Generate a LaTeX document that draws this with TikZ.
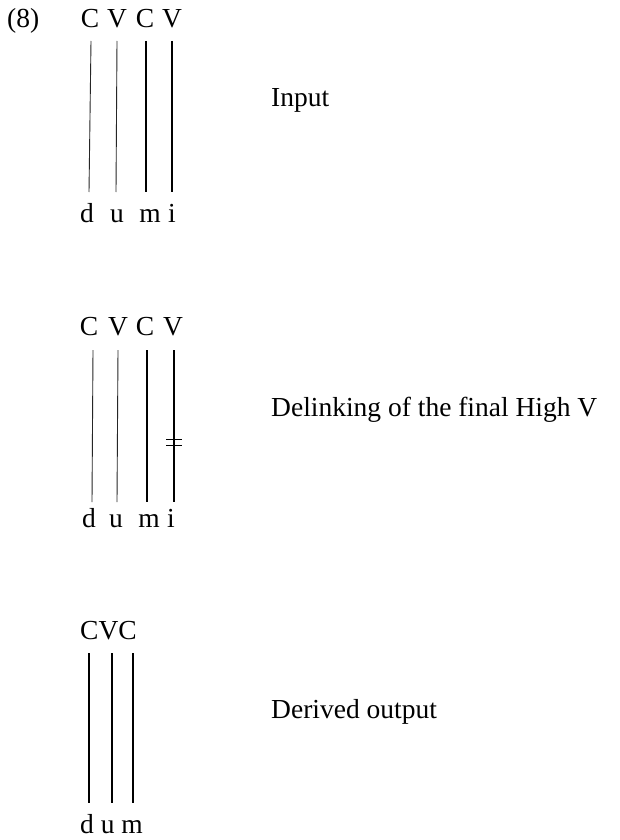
\documentclass[tikz,border=0pt]{standalone}
\usepackage{fontspec}
\setmainfont{Liberation Serif}
\begin{document}
\begin{tikzpicture}[x=1pt,y=-1pt,
  seg/.style={inner sep=0pt, anchor=base, font=\fontsize{27.5}{33}\selectfont},
  txt/.style={inner sep=0pt, anchor=base west, font=\fontsize{27.5}{33}\selectfont},
  linkthin/.style={line width=0.9pt, black!85},
  linkthick/.style={line width=1.6pt},
  cut/.style={line width=0.8pt}]
\useasboundingbox (0,0) rectangle (619,840);
\fill[white] (0,0) rectangle (619,840);
\node[txt] (num) at (7,28) {(8)};
% panel 1
\node[seg] (a1) at (90,28) {C};
\node[seg] (a2) at (117,28) {V};
\node[seg] (a3) at (145,28) {C};
\node[seg] (a4) at (172,28) {V};
\node[seg] (b1) at (87,222) {d};
\node[seg] (b2) at (117,222) {u};
\node[seg] (b3) at (150,222) {m};
\node[seg] (b4) at (172,222) {i};
\coordinate (p1t1) at (91,41);  \coordinate (p1b1) at (89,192);
\coordinate (p1t2) at (117,41); \coordinate (p1b2) at (116,192);
\coordinate (p1t3) at (146,41); \coordinate (p1b3) at (146,192);
\coordinate (p1t4) at (172,41); \coordinate (p1b4) at (172,192);
\draw[linkthin] (p1t1) -- (p1b1);
\draw[linkthin] (p1t2) -- (p1b2);
\draw[linkthick] (p1t3) -- (p1b3);
\draw[linkthick] (p1t4) -- (p1b4);
\node[txt] (in) at (271,107) {Input};
% panel 2
\node[seg] (c1) at (89,335) {C};
\node[seg] (c2) at (118,335) {V};
\node[seg] (c3) at (145,335) {C};
\node[seg] (c4) at (173,335) {V};
\node[seg] (d1) at (89,527) {d};
\node[seg] (d2) at (116,527) {u};
\node[seg] (d3) at (149,527) {m};
\node[seg] (d4) at (171,527) {i};
\coordinate (p2t1) at (93,350);  \coordinate (p2b1) at (92,502);
\coordinate (p2t2) at (118,350); \coordinate (p2b2) at (117,502);
\coordinate (p2t3) at (147,350); \coordinate (p2b3) at (147,502);
\coordinate (p2t4) at (174,350); \coordinate (p2b4) at (174,502);
\draw[linkthin] (p2t1) -- (p2b1);
\draw[linkthin] (p2t2) -- (p2b2);
\draw[linkthick] (p2t3) -- (p2b3);
\draw[linkthick] (p2t4) -- (p2b4);
\coordinate (e1l) at (166,439.5); \coordinate (e1r) at (182,439.5);
\coordinate (e2l) at (166,445);   \coordinate (e2r) at (182,445);
\draw[cut] (e1l) -- (e1r);
\draw[cut] (e2l) -- (e2r);
\node[txt] (del) at (271,416) {Delinking of the final High V};
% panel 3
\node[txt] (cvc) at (80,639) {CVC};
\node[txt] (dum) at (80,833) {d u m};
\coordinate (p3t1) at (89,653);  \coordinate (p3b1) at (89,803);
\coordinate (p3t2) at (112,653); \coordinate (p3b2) at (112,803);
\coordinate (p3t3) at (133,653); \coordinate (p3b3) at (133,803);
\draw[linkthick] (p3t1) -- (p3b1);
\draw[linkthick] (p3t2) -- (p3b2);
\draw[linkthick] (p3t3) -- (p3b3);
\node[txt] (out) at (271,718) {Derived output};
\end{tikzpicture}
\end{document}
